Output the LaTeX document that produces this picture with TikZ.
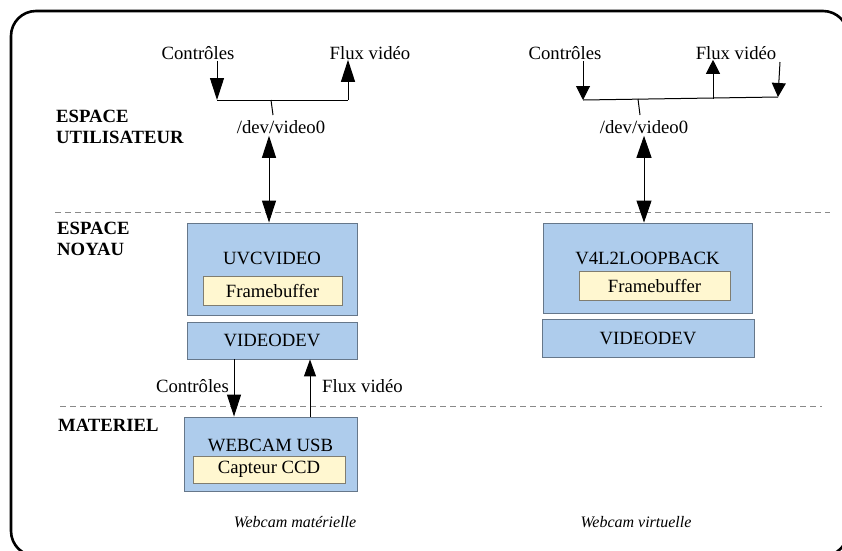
\documentclass[tikz,border=0pt]{standalone}
\usepackage{fontspec}
\setmainfont{Liberation Serif}
\usetikzlibrary{arrows.meta}
\definecolor{boxblue}{HTML}{AECCEC}
\definecolor{boxedge}{HTML}{66778A}
\definecolor{fbyellow}{HTML}{FFF7D0}
\definecolor{fbedge}{HTML}{807D70}
\definecolor{dashgray}{HTML}{8A8A8A}
\tikzset{
  txt/.style={inner sep=0pt, font=\fontsize{18.7}{21}\selectfont},
  boldlabel/.style={txt, font=\fontsize{18.7}{21}\selectfont\bfseries, align=left},
  captext/.style={inner sep=0pt, font=\fontsize{16}{18}\selectfont\itshape},
  bluebox/.style={draw=boxedge, fill=boxblue, line width=0.9pt, inner sep=0pt},
  fbbox/.style={draw=fbedge, fill=fbyellow, line width=0.9pt, inner sep=0pt},
  conn/.style={line width=1pt, black},
  sepline/.style={dashgray, line width=0.7pt, dash pattern=on 6pt off 4pt},
  bigtip/.style={-{Triangle[width=14pt,length=22pt]}},
  smalltip/.style={-{Triangle[width=14pt,length=14pt]}},
}
\begin{document}
\begin{tikzpicture}[x=1pt,y=-1pt]
\useasboundingbox (0,0) rectangle (842,550);
\begin{scope}
\clip (0,0) rectangle (842,550);
\draw[line width=2.6pt, rounded corners=25pt] (11,11) rectangle (848,556);
\end{scope}

% separators
\coordinate (s1a) at (55,212); \coordinate (s1b) at (830,212);
\coordinate (s2a) at (60,406); \coordinate (s2b) at (822,406);
\draw[sepline] (s1a) -- (s1b);
\draw[sepline] (s2a) -- (s2b);

% layer labels
\node[boldlabel, anchor=north west] (lu) at (56,110) {ESPACE\\UTILISATEUR};
\node[boldlabel, anchor=north west] (lk) at (57,222) {ESPACE\\NOYAU};
\node[boldlabel, anchor=west] (lm) at (58,425) {MATERIEL};

% ---------- left column ----------
\node[txt] (lctl) at (198,53) {Contrôles};
\node[txt] (lflx) at (370,53) {Flux vidéo};
\coordinate (lj1) at (217,100);
\coordinate (lj2) at (348,100);
\coordinate (ljt) at (271,100);
\coordinate (ljb) at (273,115);
\node[txt] (ldev) at (281,127) {/dev/video0};

\node[bluebox, minimum width=170pt, minimum height=92pt] (uvc) at (272,269) {};
\node[txt] (uvct) at (272,258) {UVCVIDEO};
\node[fbbox, minimum width=139pt, minimum height=29pt] (lfb) at (272.5,290.5) {};
\node[txt] at (lfb) {Framebuffer};
\node[bluebox, minimum width=170pt, minimum height=37pt] (lvd) at (272,340.5) {};
\node[txt] at (lvd) {VIDEODEV};
\node[bluebox, minimum width=173pt, minimum height=74pt] (wc) at (270.5,454) {};
\node[txt] (wct) at (270.5,445) {WEBCAM USB};
\node[fbbox, minimum width=152pt, minimum height=27pt] (ccd) at (269,469.5) {};
\node[txt] at (ccd) {Capteur CCD};
\node[captext] (lcap) at (295,522) {Webcam matérielle};

\draw[conn, bigtip] (lctl.south -| lj1) ++(0,1) -- (lj1);
\draw[conn] (lj1) -- (lj2);
\draw[conn, bigtip] (lj2) -- (lflx.south -| lj2);
\draw[conn] (ljt) -- (ljb);
\coordinate (lda) at (269,0);
\draw[conn, {Triangle[width=14pt,length=22pt]}-{Triangle[width=14pt,length=22pt]}]
  (ldev.south -| lda) ++(0,2) -- (uvc.north -| lda);

\coordinate (lca) at (234,0);
\coordinate (lfa) at (310,0);
\draw[conn, -{Triangle[width=14pt,length=22pt]}] (lvd.south -| lca) -- (wc.north -| lca);
\draw[conn, -{Triangle[width=12pt,length=17pt]}] (wc.north -| lfa) -- (lvd.south -| lfa);
\node[txt, anchor=east] (lctl2) at (229,386) {Contrôles};
\node[txt, anchor=west] (lflx2) at (322,386) {Flux vidéo};

% ---------- right column ----------
\node[txt] (rctl) at (565,53) {Contrôles};
\node[txt] (rflx) at (736,53) {Flux vidéo};
\coordinate (rj1) at (583,100);
\coordinate (rj2) at (778,97);
\coordinate (rju) at (713,98.5);
\coordinate (rjt) at (638,99);
\coordinate (rjb) at (640,115);
\coordinate (rtop) at (780,62);
\node[txt] (rdev) at (644,127) {/dev/video0};

\node[bluebox, minimum width=209pt, minimum height=90pt] (v4l) at (647.5,268) {};
\node[txt] (v4lt) at (647.5,258) {V4L2LOOPBACK};
\node[fbbox, minimum width=151pt, minimum height=29pt] (rfb) at (654.5,285.5) {};
\node[txt] at (rfb) {Framebuffer};
\node[bluebox, minimum width=212pt, minimum height=38pt] (rvd) at (648,338) {};
\node[txt] at (rvd) {VIDEODEV};
\node[captext] (rcap) at (636,522) {Webcam virtuelle};

\draw[conn, smalltip] (rctl.south -| rj1) ++(0,1) -- (rj1);
\draw[conn] (rj1) -- (rj2);
\draw[conn, smalltip] (rju) -- (rflx.south -| rju);
\draw[conn, smalltip] (rtop) -- (rj2);
\draw[conn] (rjt) -- (rjb);
\coordinate (rda) at (644,0);
\draw[conn, {Triangle[width=15pt,length=22pt]}-{Triangle[width=15pt,length=22pt]}]
  (rdev.south -| rda) ++(0,2) -- (v4l.north -| rda);
\end{tikzpicture}
\end{document}
